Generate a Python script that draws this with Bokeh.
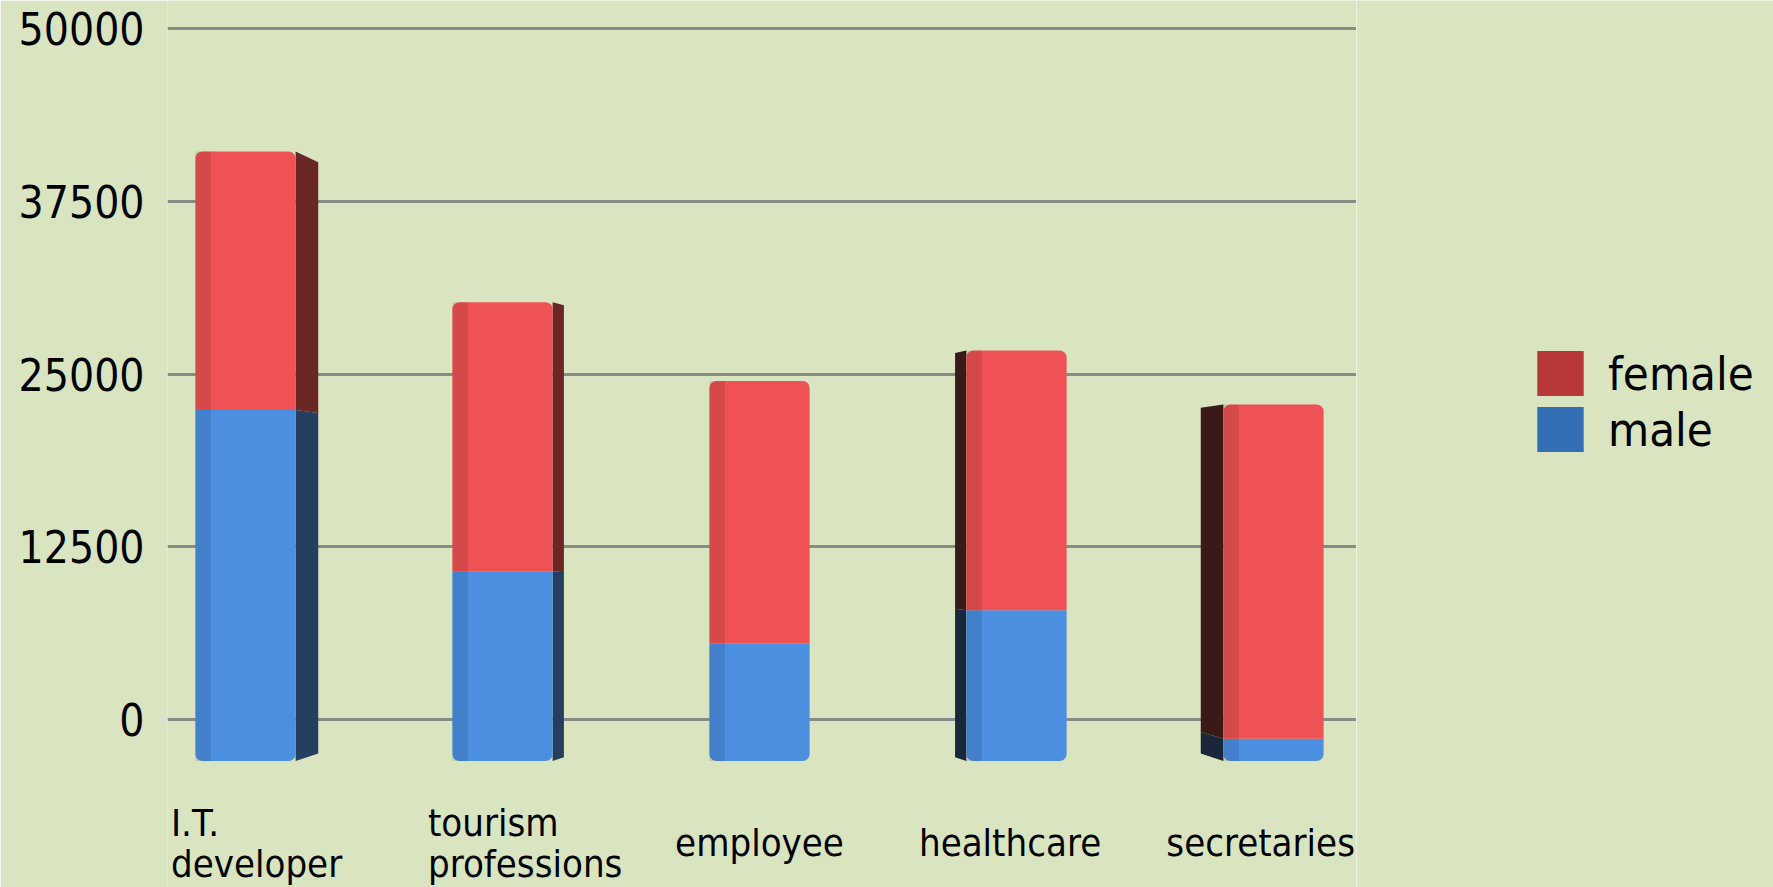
from bokeh.plotting import figure
from bokeh.layouts import row
from bokeh.models import Range1d, FixedTicker, Legend, LegendItem, NumeralTickFormatter
from bokeh.core.properties import value
from bokeh.embed import file_html
from bokeh.resources import INLINE

# ---- data ----
categories = ["I.T.\ndeveloper", "tourism\nprofessions", "employee", "healthcare", "secretaries"]
series = ["female", "male"]
male = [25400, 13700, 8500, 10900, 1600]
female = [18700, 19500, 19000, 18800, 24200]
y_ticks = [0, 12500, 25000, 37500, 50000]

# ---- style ----
BG = "#d9e4c1"
FONT = "DejaVu Sans Condensed"
FLOOR = -3000          # 3D look: front faces stand in front of the back wall's zero line
LABEL_Y = FLOOR - 5970 # category labels sit under the bars
LABEL_PERSP = 0.975    # labels are slightly pulled toward the middle (perspective)
LABEL_INSET = 0.095    # wrapped labels start a little left of the bar front
BAR_W = 0.39
VY = 15000             # vanishing height for the side faces
RED, BLUE = "#ef5252", "#4a8fe0"
RED_SIDE_R, BLUE_SIDE_R = "#6b2626", "#243f5f"
RED_SIDE_L, BLUE_SIDE_L = "#3b1919", "#19273a"
LEG_COLORS = {"female": "#b83838", "male": "#336fb5"}

n = len(categories)
pos = list(range(n))
mid = (n - 1) / 2
base = [FLOOR] * n
male_top = [FLOOR + m for m in male]
total_top = [FLOOR + m + f for m, f in zip(male, female)]

p = figure(width=1356, height=887, output_backend="svg", toolbar_location=None,
           x_range=Range1d(-0.3035, 4.323), y_range=Range1d(-12156, 52026),
           min_border_left=167, min_border_right=0, min_border_top=0, min_border_bottom=0,
           background_fill_color=BG, border_fill_color=BG, outline_line_color=None)

# side faces (perspective)
side_xs, side_ys, side_cols = [], [], []
for i in pos:
    d = mid - i
    if d == 0:
        continue
    sgn = 1 if d > 0 else -1
    s = 0.044 * abs(d)
    g = 0.015 * abs(d)
    xf = i + sgn * BAR_W / 2
    xb = xf + sgn * s
    cols = (BLUE_SIDE_R, RED_SIDE_R) if sgn > 0 else (BLUE_SIDE_L, RED_SIDE_L)
    for (y0, y1), col in zip([(base[i], male_top[i]), (male_top[i], total_top[i])], cols):
        b0 = y0 + g * (VY - y0)
        b1 = y1 + g * (VY - y1)
        side_xs.append([xf, xf, xb, xb])
        side_ys.append([y0, y1, b1, b0])
        side_cols.append(col)
p.patches(side_xs, side_ys, fill_color=side_cols, line_color=None)

# front faces
p.vbar(x=pos, bottom=base, top=male_top, width=BAR_W, fill_color=BLUE, line_color=None,
       border_radius=(0, 0, 7, 7))
p.vbar(x=pos, bottom=male_top, top=total_top, width=BAR_W, fill_color=RED, line_color=None,
       border_radius=(7, 7, 0, 0))
# shading on the left edge of the fronts
p.vbar(x=[x - BAR_W / 2 + 0.03 for x in pos], bottom=base, top=total_top, width=0.06,
       fill_color="black", fill_alpha=0.10, line_color=None)

# category labels: wrapped ones are left-aligned blocks, single-line ones centred
wrapped = [i for i in pos if "\n" in categories[i]]
single = [i for i in pos if "\n" not in categories[i]]
text_style = dict(text_baseline="middle", text_font=value(FONT), text_font_size=value("38px"),
                  text_line_height=0.92, text_color="black")
p.text(x=[i - BAR_W / 2 - LABEL_INSET for i in wrapped], y=[LABEL_Y] * len(wrapped),
       text=[categories[i] for i in wrapped], text_align="left", **text_style)
p.text(x=[mid + (i - mid) * LABEL_PERSP for i in single], y=[LABEL_Y] * len(single),
       text=[categories[i] for i in single], text_align="center", **text_style)

# axes & grid
p.xaxis.visible = False
p.xgrid.grid_line_color = None
p.ygrid.ticker = FixedTicker(ticks=y_ticks)
p.ygrid.grid_line_color = "#878c85"
p.ygrid.grid_line_width = 3

p.yaxis.ticker = FixedTicker(ticks=y_ticks)
p.yaxis.formatter = NumeralTickFormatter(format="0")
p.yaxis.axis_line_color = None
p.yaxis.major_tick_line_color = None
p.yaxis.minor_tick_line_color = None
p.yaxis.major_tick_out = 0
p.yaxis.major_tick_in = 0
p.yaxis.major_label_standoff = 23
p.yaxis.major_label_text_font = FONT
p.yaxis.major_label_text_font_size = "44px"
p.yaxis.major_label_text_color = "black"

# ---- legend panel (swatch colours differ from the bar faces in the reference) ----
lp = figure(width=417, height=887, output_backend="svg", toolbar_location=None,
            x_range=p.x_range, y_range=p.y_range, x_axis_type=None, y_axis_type=None,
            min_border_left=0, min_border_right=0, min_border_top=0, min_border_bottom=0,
            background_fill_color=BG, border_fill_color=BG, outline_line_color=None)
lp.xgrid.visible = False
lp.ygrid.visible = False
leg_r = {
    "female": lp.vbar(x=pos, bottom=male_top, top=total_top, width=BAR_W,
                      fill_color=LEG_COLORS["female"], line_color=None, visible=False),
    "male": lp.vbar(x=pos, bottom=base, top=male_top, width=BAR_W,
                    fill_color=LEG_COLORS["male"], line_color=None, visible=False),
}
legend = Legend(items=[LegendItem(label=s, renderers=[leg_r[s]]) for s in series],
                location=(175, 430), glyph_width=58, glyph_height=56, label_height=56,
                label_standoff=19, spacing=0, padding=10, margin=0,
                label_text_font=FONT, label_text_font_size="47px", label_text_color="black",
                background_fill_alpha=0, border_line_color=None,
                inactive_fill_alpha=0, click_policy="none")
lp.add_layout(legend, "center")

layout = row(p, lp, spacing=0)
open("out.html", "w").write(file_html(layout, INLINE))
